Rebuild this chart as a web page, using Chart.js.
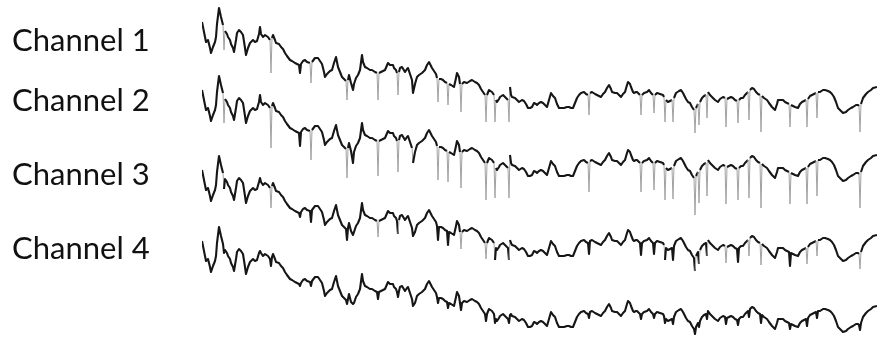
<!DOCTYPE html>
<html>
<head>
<meta charset="utf-8">
<title>Channel traces</title>
<script src="https://cdn.jsdelivr.net/npm/chart.js@4/dist/chart.umd.min.js"></script>
<style>
  html, body { margin: 0; padding: 0; background: #ffffff; }
  #wrap { width: 877px; height: 343px; }
</style>
</head>
<body>
<div id="wrap"><canvas id="traces" width="877" height="343"></canvas></div>
<script>
// Channel names shown on the left, and the row each name sits on (display units)
const channelNames = ['Channel 1', 'Channel 2', 'Channel 3', 'Channel 4'];
const labelRows = [41, 101, 175, 249];

// Vertical offset of each channel's trace in the stacked display
const channelOffsets = [0, 68, 148, 219];

// Sample times (samples from start of the epoch)
const sampleTimes = [
  0,2,4,6,8,9,11,13,14,15, 17,19,21,22,23,25,26,28,29,31,
  32,34,35,37,39,41,43,44,46,48, 50,51,53,55,57,58,59,61,63,66,
  68,69,70,71,73,74,77,79,81,83, 85,88,90,93,95,97,98,99,101,103,
  105,108,109,110,113,116,118,120,122,123, 125,126,128,130,132,134,136,138,140,142,
  144,145,146,147,149,151,152,154,156,158, 160,161,163,165,168,170,173,175,176,177,
  179,181,183,186,188,191,192,194,195,196, 197,198,200,203,205,206,208,210,211,213,
  215,217,220,223,225,227,229,230,232,234, 235,236,237,239,241,243,245,246,247,249,
  252,254,255,257,258,259,260,262,265,268, 270,273,275,277,279,281,283,284,285,287,
  290,292,293,294,295,297,298,301,304,306, 307,308,309,310,313,315,317,320,322,324,
  326,328,330,332,334,335,337,339,341,343, 345,347,349,351,353,355,357,360,362,365,
  367,369,371,373,375,377,379,382,384,386, 387,388,390,393,395,397,399,401,403,405,
  407,409,410,413,415,417,419,421,423,425, 426,428,429,431,432,434,435,437,438,439,
  440,442,445,447,449,451,452,453,455,458, 461,462,463,464,466,468,470,471,472,474,
  477,479,481,482,484,486,488,490,492,493, 494,496,497,498,500,502,504,505,506,508,
  511,513,516,518,521,523,524,525,527,529, 531,533,535,536,537,539,541,543,546,547,
  548,550,552,554,556,558,559,560,562,565, 567,570,573,575,576,579,581,583,585,587,
  588,589,591,593,596,598,600,602,604,605, 606,608,610,612,614,615,616,618,621,623,
  626,628,630,632,634,636,639,641,644,646, 649,651,654,656,657,658,659,661,664,666,
  669,671,675
];

// Amplitudes per channel (negative-up display, arbitrary units)
const channel1 = [
  22,32,42,40,48,53,47,42,37,24, 8,17,25,50,31,34,37,40,44,48,
  52,40,33,30,32,35,48,55,48,43, 41,40,42,41,34,27,34,37,35,37,
  40,73,38,35,40,43,44,47,49,53, 56,60,61,63,64,65,73,64,61,60,
  62,63,83,62,58,58,61,64,72,77, 74,73,71,70,63,57,67,72,77,79,
  81,100,80,75,83,90,84,78,75,70, 55,62,67,68,70,70,72,73,100,73,
  72,71,70,63,65,65,68,70,73,95, 72,68,67,72,69,68,74,80,93,84,
  77,75,73,70,65,62,66,68,71,74, 78,102,79,79,80,82,83,105,84,85,
  87,78,73,77,84,112,84,82,83,81, 80,82,83,85,89,92,95,122,95,90,
  92,95,122,100,102,99,97,95,98,100, 122,87,95,97,98,100,102,100,101,104,
  108,108,107,103,104,105,103,102,103,105, 107,100,93,96,98,104,108,108,108,107,
  107,108,108,103,98,95,93,92,94,95, 115,93,92,94,95,96,97,94,92,88,
  85,89,92,93,93,95,97,94,92,85, 82,84,87,92,93,92,92,94,95,115,
  95,93,92,90,93,95,113,95,93,94, 95,97,122,100,102,101,100,122,98,93,
  91,90,93,95,99,102,103,107,110,133, 108,104,125,102,98,96,95,118,92,95,
  98,100,102,99,97,98,127,99,98,97, 98,100,101,123,100,98,98,95,92,120,
  90,88,89,92,94,95,132,96,98,100, 103,107,110,104,100,100,100,102,103,104,
  127,105,106,107,108,104,102,101,100,127, 99,96,95,94,93,118,92,92,90,90,
  91,92,94,97,102,108,111,113,112,110, 108,107,105,105,106,132,104,98,94,92,
  90,88,87
];

const channel2 = [
  22,32,42,40,48,53,47,42,37,24, 8,17,25,55,31,34,37,40,44,48,
  52,40,33,30,32,35,48,55,48,43, 41,40,42,41,34,27,34,37,35,37,
  40,80,38,35,40,43,44,47,49,53, 56,60,61,63,64,65,78,64,61,60,
  62,63,92,62,58,58,61,64,72,77, 74,73,71,70,63,57,67,72,77,79,
  81,110,80,75,83,95,84,78,75,70, 55,62,67,68,70,70,72,73,108,73,
  72,71,70,63,65,65,68,70,73,104, 72,68,67,72,69,68,74,80,95,84,
  77,75,73,70,65,62,66,68,71,74, 78,112,79,79,80,82,83,114,84,85,
  87,78,73,77,84,120,84,82,83,81, 80,82,83,85,89,92,95,132,95,90,
  92,95,130,100,102,99,97,95,98,100, 130,87,95,97,98,100,102,100,101,104,
  108,108,107,103,104,105,103,102,103,105, 107,100,93,96,98,104,108,108,108,107,
  107,108,108,103,98,95,93,92,94,95, 124,93,92,94,95,96,97,94,92,88,
  85,89,92,93,93,95,97,94,92,85, 82,84,87,92,93,92,92,94,95,124,
  95,93,92,90,93,95,122,95,93,94, 95,97,132,100,102,101,100,131,98,93,
  91,90,93,95,99,102,103,107,110,147, 108,104,135,102,98,96,95,128,92,95,
  98,100,102,99,97,98,136,99,98,97, 98,100,101,132,100,98,98,95,92,130,
  90,88,89,92,94,95,140,96,98,100, 103,107,110,104,100,100,100,102,103,104,
  136,105,106,107,108,104,102,101,100,136, 99,96,95,94,93,128,92,92,90,90,
  91,92,94,97,102,108,111,113,112,110, 108,107,105,105,106,140,104,98,94,92,
  90,88,87
];

const channel3 = [
  22,32,42,40,48,53,47,42,37,24, 8,17,25,41,31,34,37,40,44,48,
  52,40,33,30,32,35,48,55,48,43, 41,40,42,41,34,30,34,37,35,37,
  40,60,38,35,40,43,44,47,49,53, 56,60,61,63,64,65,69,64,61,60,
  62,63,74,62,58,58,61,64,72,77, 74,73,71,70,63,57,67,72,77,79,
  81,92,80,75,83,87,84,78,75,70, 55,62,67,68,70,70,72,73,89,73,
  72,71,70,63,65,65,68,70,73,86, 72,68,67,72,69,68,74,80,88,84,
  77,75,73,70,65,62,66,68,71,74, 78,92,79,79,80,82,83,97,84,85,
  87,78,73,77,84,101,84,82,83,81, 80,82,83,85,89,92,95,111,95,90,
  92,95,112,100,102,99,97,95,98,100, 112,92,95,97,98,100,102,100,101,104,
  108,108,107,103,104,105,103,102,103,105, 107,100,93,96,98,104,108,108,108,107,
  107,108,108,103,98,95,93,92,94,95, 106,93,92,94,95,96,97,94,92,88,
  85,89,92,93,93,95,97,94,92,85, 82,84,87,92,93,92,92,94,95,107,
  95,93,92,90,93,95,106,95,93,94, 95,97,112,100,102,101,100,112,98,93,
  91,90,93,95,99,102,103,107,110,123, 108,104,116,102,98,96,95,108,92,95,
  98,100,102,99,97,98,115,99,98,97, 98,100,101,114,100,98,98,95,92,108,
  90,88,89,92,94,95,117,96,98,100, 103,107,110,104,100,100,100,102,103,104,
  118,105,106,107,108,104,102,101,100,116, 99,96,95,94,93,108,92,92,90,90,
  91,92,94,97,102,108,111,113,112,110, 108,107,105,105,106,121,104,98,94,92,
  90,88,87
];

const channel4 = [
  22,32,42,40,48,53,47,42,37,24, 8,17,25,34,31,34,37,40,44,48,
  52,40,33,30,32,35,48,55,48,43, 41,40,42,41,34,32,34,37,35,37,
  40,47,38,35,40,43,44,47,49,53, 56,60,61,63,64,65,67,64,61,60,
  62,63,67,62,58,58,61,64,72,77, 74,73,71,70,63,57,67,72,77,79,
  81,85,80,75,83,85,84,78,75,70, 55,62,67,68,70,70,72,73,80,73,
  72,71,70,63,65,65,68,70,73,78, 72,68,67,72,69,68,74,80,87,84,
  77,75,73,70,65,62,66,68,71,74, 78,84,79,79,80,82,83,89,84,85,
  87,78,73,77,84,91,84,82,83,81, 80,82,83,85,89,92,95,102,95,90,
  92,95,104,100,102,99,97,95,98,100, 104,96,95,97,98,100,102,100,101,104,
  108,108,107,103,104,105,103,102,103,105, 107,100,93,96,98,104,108,108,108,107,
  107,108,108,103,98,95,93,92,94,95, 99,93,92,94,95,96,97,94,92,88,
  85,89,92,93,93,95,97,94,92,85, 82,84,87,92,93,92,92,94,95,100,
  95,93,92,90,93,95,99,95,93,94, 95,97,104,100,102,101,100,105,98,93,
  91,90,93,95,99,102,103,107,110,115, 108,104,108,102,98,96,95,100,92,95,
  98,100,102,99,97,98,105,99,98,97, 98,100,101,106,100,98,98,95,92,98,
  90,88,89,92,94,95,104,96,98,100, 103,107,110,104,100,100,100,102,103,104,
  110,105,106,107,108,104,102,101,100,107, 99,96,95,94,93,99,92,92,90,90,
  91,92,94,97,102,108,111,113,112,110, 108,107,105,105,106,111,104,98,94,92,
  90,88,87
];

const channels = [channel1, channel2, channel3, channel4];

// a segment is a transient when it is near-vertical and long
const isTransient = ctx =>
  Math.abs(ctx.p1.y - ctx.p0.y) > 14 && Math.abs(ctx.p1.x - ctx.p0.x) < 1.5;

const datasets = channels.map((values, i) => ({
  label: channelNames[i],
  data: sampleTimes.map((t, k) => ({ x: t, y: values[k] + channelOffsets[i] })),
  borderColor: '#161616',
  borderWidth: 2.1,
  borderJoinStyle: 'round',
  pointRadius: 0,
  tension: 0,
  fill: false,
  segment: {
    // sharp transients are drawn lighter, as thin grey strokes
    borderColor: ctx => isTransient(ctx) ? '#a2a2a2' : undefined,
    borderWidth: ctx => isTransient(ctx) ? 1 : undefined
  }
}));

new Chart(document.getElementById('traces'), {
  type: 'line',
  data: { datasets },
  options: {
    responsive: false,
    animation: false,
    events: [],
    layout: { padding: { left: 12, right: 0, top: 0, bottom: 0 } },
    plugins: { legend: { display: false }, tooltip: { enabled: false } },
    scales: {
      x: {
        type: 'linear',
        min: 0,
        max: 675,
        display: false
      },
      y: {
        type: 'linear',
        reverse: true,
        min: 0,
        max: 343,
        grid: { display: false },
        border: { display: false },
        afterBuildTicks: scale => {
          scale.ticks = labelRows.map(v => ({ value: v }));
        },
        afterFit: scale => {
          scale.width = 190;
          scale.paddingTop = 0;
          scale.paddingBottom = 0;
        },
        ticks: {
          autoSkip: false,
          crossAlign: 'far',
          padding: 0,
          color: '#111111',
          font: { family: 'Lato', size: 31 },
          callback: (value, index) => channelNames[index]
        }
      }
    }
  }
});
</script>
</body>
</html>
